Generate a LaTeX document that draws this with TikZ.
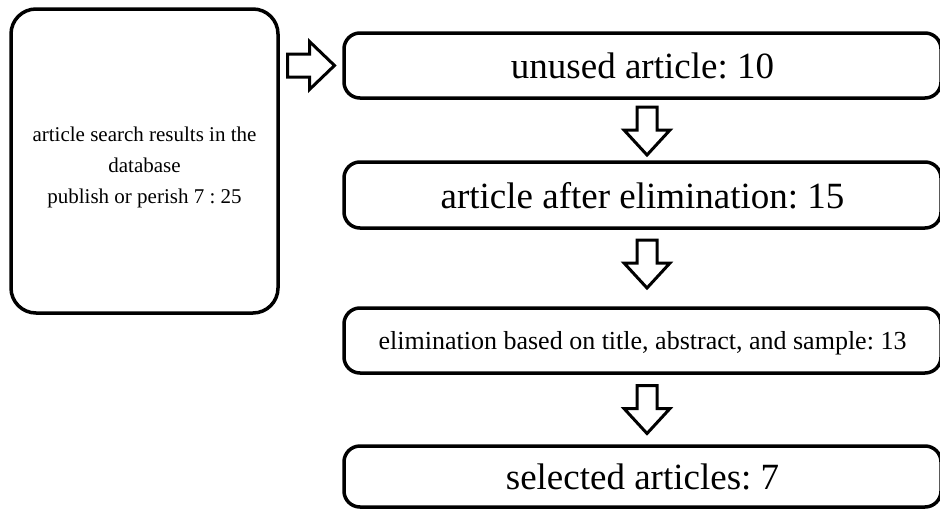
\documentclass[tikz,border=0pt]{standalone}
\usepackage{fontspec}
\setmainfont{Liberation Serif}
\usetikzlibrary{calc}
\frenchspacing
\begin{document}
\begin{tikzpicture}[x=1pt,y=-1pt,
  box/.style={draw=black, line width=3.5pt, rounded corners=16pt, minimum width=597pt, inner sep=0pt, fill=white, text depth=0pt},
  big/.style={font=\fontsize{37}{44}\selectfont},
  arrowline/.style={draw=black, line width=3pt, fill=white, line join=miter},
  downarr/.pic={\draw[arrowline] (-10,-24) -- (10,-24) -- (10,-1) -- (23,-1) -- (0,24) -- (-23,-1) -- (-10,-1) -- cycle;},
  rightarr/.pic={\draw[arrowline] (-23.5,-11.5) -- (-1.5,-11.5) -- (-1.5,-24) -- (23.5,0) -- (-1.5,24) -- (-1.5,11.5) -- (-23.5,11.5) -- cycle;},
]
\useasboundingbox (0,0) rectangle (940,509);
\node[draw=black, line width=3.5pt, rounded corners=25pt, minimum width=267pt, minimum height=304pt, inner sep=0pt] (src) at (144.5,161) {};
\node[align=center, inner sep=0pt, font=\fontsize{21}{31}\selectfont] (srctext) at ($(src.center)+(0,6)$) {article search results in the\\database\\publish or perish 7 : 25};
\node[box, big, minimum height=65pt] (b1) at (642.5,65.5) {unused article: 10};
\node[box, big, minimum height=66pt] (b2) at (642.5,195) {article after elimination: 15};
\node[box, minimum height=65pt, font=\fontsize{26}{31}\selectfont] (b3) at (642.5,340.5) {elimination based on title, abstract, and sample: 13};
\node[box, big, minimum height=61pt] (b4) at (642.5,476.5) {selected articles: 7};
\pic at ($(src.east |- b1.west)!0.5!(b1.west)$) {rightarr};
\pic at ($(b1.south)!0.5!(b2.north)+(4.5,1)$) {downarr};
\pic at ($(b2.south)!0.5!(b3.north)+(4.5,-4)$) {downarr};
\pic at ($(b3.south)!0.5!(b4.north)+(4.5,0)$) {downarr};
\end{tikzpicture}
\end{document}
